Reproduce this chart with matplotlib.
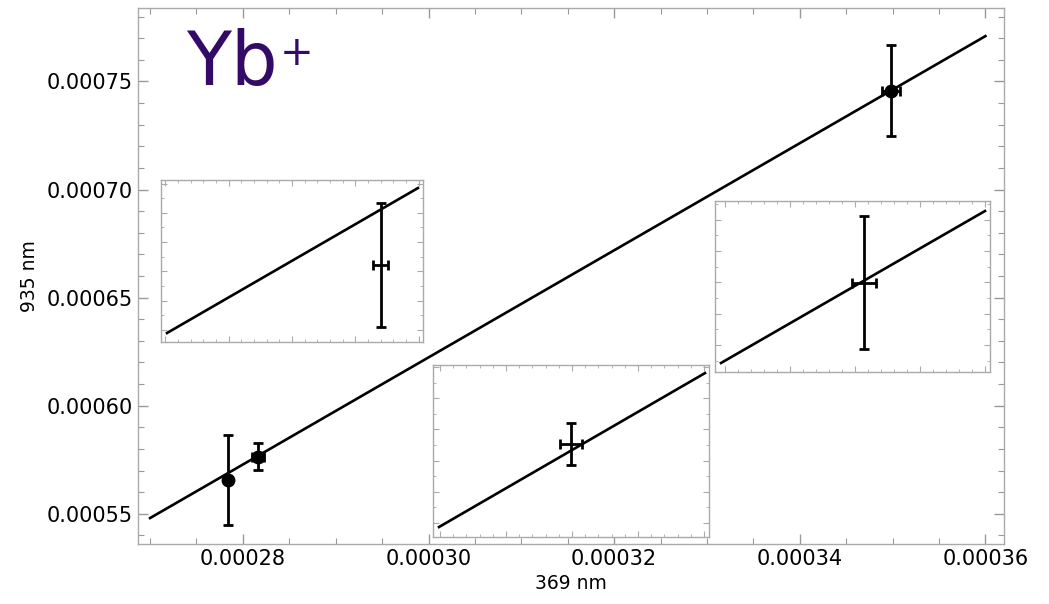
import matplotlib
matplotlib.use('Agg')
import matplotlib.pyplot as plt
from matplotlib.ticker import MultipleLocator, FormatStrFormatter

plt.rcParams['font.family'] = 'DejaVu Sans'

# main data (369 nm vs 935 nm)
x_369 = [0.0002784, 0.0002816, 0.0003498]
y_935 = [0.0005657, 0.0005764, 0.0007458]
xerr_369 = [0.0000002, 0.00000065, 0.00000095]
yerr_935 = [0.0000209, 0.0000063, 0.0000211]
fit_x = [0.00027, 0.00036]
fit_y = [0.000548, 0.000771]

# insets (zoomed views, arbitrary offsets in units of 1e-6)
inset_xlim = [(-1.07, 3.07), (-0.106, 4.076), (-0.154, 4.077)]
inset_ylim = [(-0.82, 10.24), (-0.9, 10.13), (-1.73, 9.2)]
inset_line_x = [[-0.975, 2.99], [-0.015, 4.015], [-0.062, 4.0]]
inset_line_y = [[-0.206, 9.69], [-0.26, 9.61], [-1.155, 8.56]]
inset_px = [2.405, 1.985, 2.138]
inset_py = [4.44, 5.06, 3.96]
inset_xerr = [0.118, 0.167, 0.185]
inset_yerr = [4.24, 1.35, 4.25]
# inset boxes in figure pixels (left, top, right, bottom)
inset_box = [(161, 180, 423, 342), (433, 365, 709, 537), (715, 201, 990, 372)]

W, H = 1049, 604
fig = plt.figure(figsize=(W / 100, H / 100), dpi=100)
ax = fig.add_axes([138 / W, 60 / H, 866 / W, 536 / H])

ax.plot(fit_x, fit_y, color='black', lw=1.9)
ax.errorbar(x_369, y_935, xerr=xerr_369, yerr=yerr_935, fmt='o', color='black',
            ms=9, elinewidth=2, capsize=3.5, capthick=2)

ax.set_xlim(0.0002687, 0.000362)
ax.set_ylim(0.000536, 0.000784)
ax.xaxis.set_major_locator(MultipleLocator(0.00002))
ax.xaxis.set_minor_locator(MultipleLocator(0.000005))
ax.yaxis.set_major_locator(MultipleLocator(0.00005))
ax.yaxis.set_minor_locator(MultipleLocator(0.00001))
ax.xaxis.set_major_formatter(FormatStrFormatter('%.5f'))
ax.yaxis.set_major_formatter(FormatStrFormatter('%.5f'))
ax.tick_params(which='both', direction='in', top=True, right=True, color='#999999',
               labelsize=15, labelcolor='black')
ax.tick_params(which='major', length=7, width=1)
ax.tick_params(which='minor', length=4, width=0.8)
for s in ax.spines.values():
    s.set_color('#aaaaaa')
    s.set_linewidth(1)
ax.set_xlabel('369 nm', fontsize=13.5, labelpad=4)
ax.set_ylabel('935 nm', fontsize=13.5, labelpad=6)

# Yb+ label (superscript as its own smaller text)
fig.text(186 / W, 1 - 85 / H, 'Yb', fontsize=53, color='#330a66',
         ha='left', va='baseline')
fig.text(280 / W, 1 - 65 / H, '+', fontsize=29, color='#330a66',
         ha='left', va='baseline')

for i in range(3):
    l, t, r, b = inset_box[i]
    ia = fig.add_axes([l / W, (H - b) / H, (r - l) / W, (b - t) / H])
    ia.plot(inset_line_x[i], inset_line_y[i], color='black', lw=1.9)
    ia.errorbar([inset_px[i]], [inset_py[i]], xerr=[inset_xerr[i]], yerr=[inset_yerr[i]],
                fmt='none', ecolor='black', elinewidth=2, capsize=3.5, capthick=2)
    ia.set_xlim(*inset_xlim[i])
    ia.set_ylim(*inset_ylim[i])
    ia.xaxis.set_major_locator(MultipleLocator(1))
    ia.xaxis.set_minor_locator(MultipleLocator(0.2))
    ia.yaxis.set_major_locator(MultipleLocator(2))
    ia.yaxis.set_minor_locator(MultipleLocator(1))
    ia.tick_params(which='both', direction='in', top=True, right=True, color='#aaaaaa',
                   labelbottom=False, labelleft=False)
    ia.tick_params(which='major', length=4, width=0.8)
    ia.tick_params(which='minor', length=2, width=0.6)
    for s in ia.spines.values():
        s.set_color('#aaaaaa')
        s.set_linewidth(1)

fig.savefig('out.png', dpi=100)
